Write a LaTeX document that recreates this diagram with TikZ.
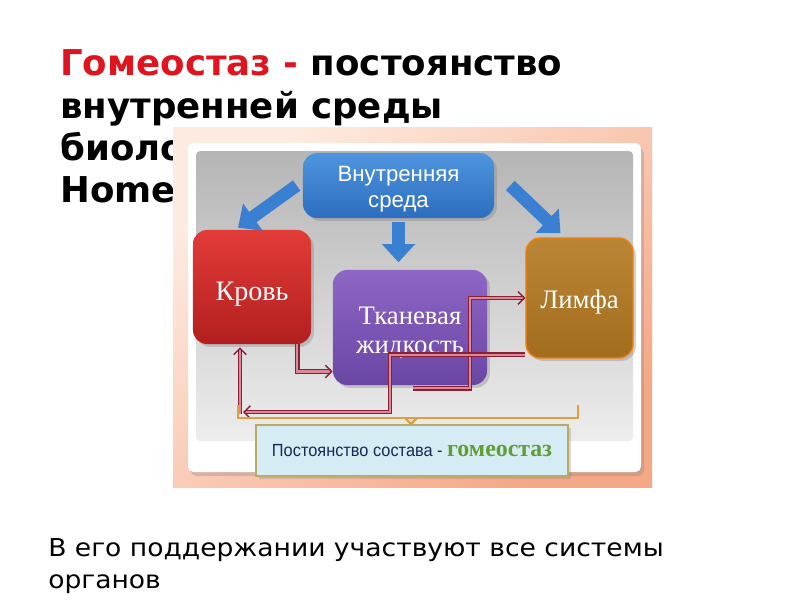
\documentclass[tikz,border=0pt]{standalone}
\usepackage{fontspec}
\setmainfont{Liberation Serif}
\setsansfont{Liberation Sans}
\newfontfamily\headfont{DejaVu Sans}
\newfontfamily\notefont{DejaVu Sans Condensed}[FakeStretch=1.2]
\newfontfamily\narrowfont{Liberation Sans}[FakeStretch=0.93]
\usetikzlibrary{arrows.meta,calc,shadows}
\definecolor{titlered}{HTML}{E0141E}
\definecolor{peachL}{HTML}{FDEAE0}
\definecolor{peachD}{HTML}{F6A886}
\definecolor{blueT}{HTML}{4F95DE}
\definecolor{blueB}{HTML}{2C6DBF}
\definecolor{arrowblue}{HTML}{3A80D2}
\definecolor{redT}{HTML}{E23C38}
\definecolor{redB}{HTML}{B21F1F}
\definecolor{violetT}{HTML}{8E66C6}
\definecolor{violetB}{HTML}{6A46A4}
\definecolor{brownT}{HTML}{BA8535}
\definecolor{brownB}{HTML}{A36D1F}
\definecolor{linkred}{HTML}{8A1F35}
\definecolor{linkpink}{HTML}{D98A96}
\definecolor{bracecol}{HTML}{E0A040}
\definecolor{noteblue}{HTML}{D6ECF5}
\definecolor{notekhaki}{HTML}{BBAA62}
\definecolor{navy}{HTML}{1A2858}
\definecolor{homgreen}{HTML}{5F9E34}
\newcommand{\lowerby}[2]{\raisebox{-#1}[\height][\depth]{#2}}

\begin{document}
\begin{tikzpicture}[x=0.025cm, y=-0.025cm,
    box/.style={rounded corners=10pt, text=white, align=center,
        drop shadow={opacity=0.35, shadow xshift=2pt, shadow yshift=-2pt}},
    bluearrow/.style={draw=arrowblue, line width=9pt,
        -{Triangle[length=13pt,width=23pt]}},
    flow/.style={draw=linkred, double=linkpink, line width=1pt,
        double distance=1.5pt, -{Straight Barb[length=4.5pt,width=9pt]}},
    bracket/.style={draw=bracecol, line width=1.6pt}]

    \useasboundingbox (0,0) rectangle (800,600);
    \fill[white] (0,0) rectangle (800,600);

    % title, partly hidden by the picture
    \node[anchor=base west, inner sep=0, font=\headfont\bfseries\fontsize{25.3pt}{30pt}\selectfont]
        (title1) at (60,75) {\textcolor{titlered}{Гомеостаз -} постоянство};
    \node[anchor=base west, inner sep=0, font=\headfont\bfseries\fontsize{25.3pt}{30pt}\selectfont]
        (title2) at (60,118) {внутренней среды};
    \node[anchor=base west, inner sep=0, font=\headfont\bfseries\fontsize{25.3pt}{30pt}\selectfont]
        (title3) at (60,160) {биологической};
    \node[anchor=base west, inner sep=0, font=\headfont\bfseries\fontsize{25.3pt}{30pt}\selectfont]
        (title4) at (60,202) {Homeostasis};

    % picture panel
    \shade[top color=peachL, bottom color=peachD, shading angle=40] (173,127) rectangle (652,487);
    \fill[white, rounded corners=4pt, drop shadow={opacity=0.3, shadow xshift=2pt, shadow yshift=-3pt}]
        (188,143) rectangle (641,472);
    \shade[top color=black!29, bottom color=black!7, rounded corners=3pt] (196,151) rectangle (633,441);

    \node[box, font=\sffamily\fontsize{15.8pt}{19.2pt}\selectfont, top color=blueT, bottom color=blueB,
        minimum width=4.775cm, minimum height=1.625cm] (vnut) at (398.5,185.5)
        {\lowerby{3pt}{Внутренняя}\\\lowerby{2.5pt}{среда}};
    \node[box, font=\fontsize{20pt}{22pt}\selectfont, top color=redT, bottom color=redB,
        minimum width=2.95cm, minimum height=2.85cm] (krov) at (252,287) {\lowerby{5.5pt}{Кровь}};
    \node[box, font=\fontsize{19pt}{21pt}\selectfont, top color=violetT, bottom color=violetB,
        minimum width=3.85cm, minimum height=2.875cm] (tkan) at (410,327.5)
        {\lowerby{4pt}{Тканевая}\\\lowerby{3.5pt}{жидкость}};
    \node[box, font=\fontsize{19pt}{22pt}\selectfont, top color=brownT, bottom color=brownB,
        draw=orange!80!brown, line width=1pt,
        minimum width=2.675cm, minimum height=3cm] (limfa) at (579.5,298) {\lowerby{3pt}{Лимфа}};

    % block arrows
    \draw[bluearrow] ($(vnut.west)+(-6,0)$) -- ($(krov.north)+(-14,-2)$);
    \draw[bluearrow] ($(vnut.south)+(0,4)$) -- ($(vnut.south)+(0,44)$);
    \draw[bluearrow] ($(vnut.east)+(16,0)$) -- ($(limfa.north)+(-19,-4)$);

    % exchange between the fluids
    \coordinate (tout) at ($(tkan.south)+(3,3)$);
    \coordinate (bend2) at (470,298);
    \coordinate (lout) at ($(limfa.south west)+(0,-4)$);
    \coordinate (bend3) at (390,412);
    \coordinate (kin) at (243,412);
    \coordinate (kcorner) at (240,414);
    \draw[flow] ($(krov.south east)+(-14,0)$) |- ($(tkan.west)+(0,44)$);
    \draw[flow] (tout) -| (bend2) -- (bend2 -| limfa.west);
    \draw[flow] (lout) -| (bend3) |- (kin);
    \draw[flow] (kcorner) -- ($(krov.south -| kcorner)+(0,3)$);

    % bracket over the note
    \coordinate (brL) at (238,405);
    \coordinate (brR) at (578,405);
    \coordinate (brM) at (411,418);
    \draw[bracket] (brL) |- (brM) -| (brR);
    \draw[bracket] ($(brM)+(-6,0)$) -- ($(brM)+(0,6)$) -- ($(brM)+(6,0)$);

    \node[draw=notekhaki, line width=1.2pt, fill=noteblue, minimum width=7.8cm, minimum height=1.275cm,
        drop shadow={opacity=0.3, shadow xshift=2pt, shadow yshift=-2pt}]
        (sost) at (412,450.5) {\narrowfont\fontsize{12.5pt}{14pt}\selectfont\color{navy}Постоянство состава -
        \fontsize{17pt}{18pt}\rmfamily\bfseries\color{homgreen}гомеостаз};

    % note below
    \node[anchor=base west, inner sep=0, font=\notefont\fontsize{17.5pt}{22pt}\selectfont]
        (note1) at (48,556) {В его поддержании участвуют все системы};
    \node[anchor=base west, inner sep=0, font=\notefont\fontsize{17.5pt}{22pt}\selectfont]
        (note2) at (48,588) {органов};
\end{tikzpicture}
\end{document}
